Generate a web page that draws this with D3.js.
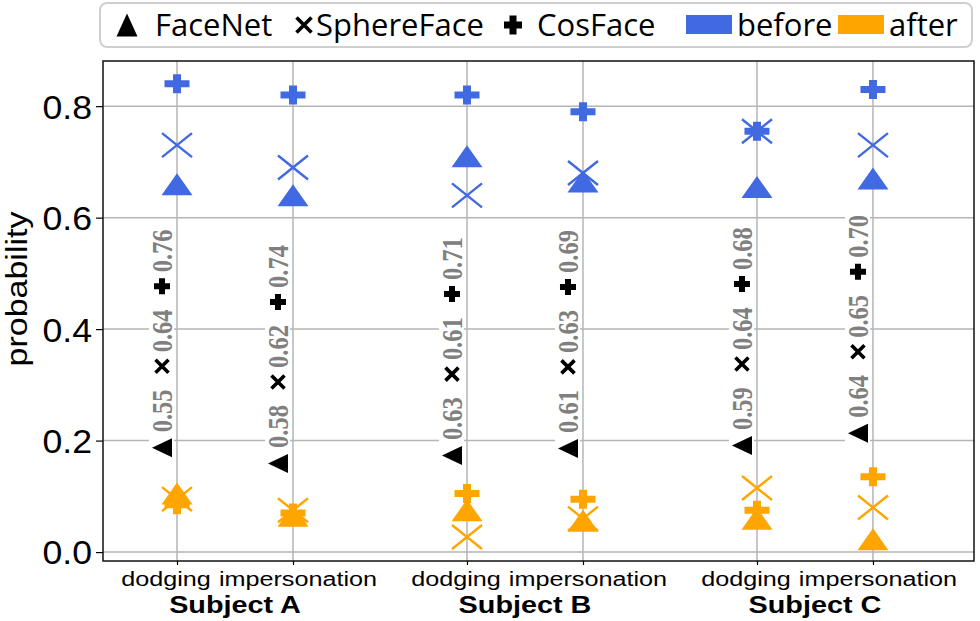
<!DOCTYPE html>
<html><head><meta charset="utf-8">
<script src="https://cdn.jsdelivr.net/npm/d3@7"></script>
<style>body{margin:0;background:#fff}svg{display:block}</style>
</head><body><svg id="c" width="980" height="621"></svg>
<script>
// ---- data ----
const subjects = ["Subject A", "Subject B", "Subject C"];
const attacks = ["dodging", "impersonation"];
const models = ["FaceNet", "SphereFace", "CosFace"];
const phases = ["before", "after"];
const yTicks = [0.0, 0.2, 0.4, 0.6, 0.8];
// order: A-dodging, A-impersonation, B-dodging, B-impersonation, C-dodging, C-impersonation
const beforeFaceNet    = [0.66, 0.64, 0.71, 0.665, 0.655, 0.67];
const beforeSphereFace = [0.73, 0.69, 0.64, 0.68, 0.755, 0.73];
const beforeCosFace    = [0.84, 0.82, 0.82, 0.79, 0.755, 0.83];
const afterFaceNet     = [0.105, 0.065, 0.075, 0.056, 0.06, 0.023];
const afterSphereFace  = [0.095, 0.075, 0.027, 0.06, 0.115, 0.08];
const afterCosFace     = [0.085, 0.07, 0.105, 0.095, 0.075, 0.135];
const labelFaceNet     = [0.55, 0.58, 0.63, 0.61, 0.59, 0.64];
const labelSphereFace  = [0.64, 0.62, 0.61, 0.63, 0.64, 0.65];
const labelCosFace     = [0.76, 0.74, 0.71, 0.69, 0.68, 0.70];
const labelAnchor      = [0.170, 0.142, 0.156, 0.169, 0.174, 0.196];

const colors = {before: "#4169E1", after: "#FFA500"};
const SX = 1.2; // horizontal stretch of the original figure

const svg = d3.select("#c");
const cats = [];
subjects.forEach((s, si) => attacks.forEach((a, ai) => cats.push({s, a, pos: si * 2.5 + ai})));

const x = d3.scaleLinear().domain([-0.638, 6.871]).range([103, 974]);
const y = d3.scaleLinear().domain([-0.016, 0.881]).range([561, 61]);

// grid
const grid = svg.append("g");
grid.selectAll("line.h").data(yTicks).join("line")
  .attr("x1", 103).attr("x2", 974).attr("y1", d => y(d)).attr("y2", d => y(d))
  .attr("stroke", "#b5b5b5").attr("stroke-width", 1.5);
grid.selectAll("line.v").data(cats).join("line")
  .attr("y1", 61).attr("y2", 561).attr("x1", d => x(d.pos)).attr("x2", d => x(d.pos))
  .attr("stroke", "#b5b5b5").attr("stroke-width", 1.5);

// axes
const yAxis = d3.axisLeft(y).tickValues(yTicks).tickFormat(d3.format(".1f")).tickSize(7).tickPadding(4);
const gy = svg.append("g").attr("transform", "translate(103,0)").call(yAxis);
gy.select(".domain").remove();
gy.selectAll(".tick line").attr("stroke", "#000").attr("stroke-width", 1.2);
gy.selectAll(".tick text").attr("font-family", "Liberation Sans, Arial, sans-serif")
  .attr("font-size", 33).attr("fill", "#000").attr("x", null).attr("dy", "0.36em")
  .attr("transform", `translate(-11,0) scale(1.08,1)`);

const xAxis = d3.axisBottom(x).tickValues(cats.map(c => c.pos)).tickFormat("").tickSize(4);
const gx = svg.append("g").attr("transform", "translate(0,561)").call(xAxis);
gx.select(".domain").remove();
gx.selectAll(".tick line").attr("stroke", "#000").attr("stroke-width", 1.2);

// frame
svg.append("rect").attr("x", 103).attr("y", 61).attr("width", 871).attr("height", 500)
  .attr("fill", "none").attr("stroke", "#111").attr("stroke-width", 1.5);

// x labels
const xl = svg.append("g");
cats.forEach(c => {
  const off = c.a === "dodging" ? -11 : 5;
  xl.append("text").attr("transform", `translate(${x(c.pos) + off},586) scale(${SX},1)`)
    .attr("text-anchor", "middle").attr("font-family", "Liberation Sans, Arial, sans-serif")
    .attr("font-size", 21).text(c.a);
});
subjects.forEach((s, si) => {
  xl.append("text").attr("transform", `translate(${(x(si * 2.5) + x(si * 2.5 + 1)) / 2},613) scale(${SX},1)`)
    .attr("text-anchor", "middle").attr("font-family", "Liberation Sans, Arial, sans-serif")
    .attr("font-weight", "bold").attr("font-size", 24).text(s);
});

// y label
svg.append("text").attr("transform", "translate(27,289) rotate(-90) scale(1,0.88)")
  .attr("text-anchor", "middle").attr("font-family", "Liberation Sans, Arial, sans-serif")
  .attr("font-size", 34).text("probability");

// marker path generators (centered at 0,0)
function triPath(w, h) { return `M0,${-h / 2}L${w / 2},${h / 2}L${-w / 2},${h / 2}Z`; }
function plusPath(w, h, tw, th) {
  return `M${-tw / 2},${-h / 2}H${tw / 2}V${-th / 2}H${w / 2}V${th / 2}H${tw / 2}V${h / 2}H${-tw / 2}V${th / 2}H${-w / 2}V${-th / 2}H${-tw / 2}Z`;
}
function xPath(w, h) { return `M${-w / 2},${-h / 2}L${w / 2},${h / 2}M${-w / 2},${h / 2}L${w / 2},${-h / 2}`; }

function drawMarker(g, model, cx, cy, color) {
  if (model === "FaceNet") {
    g.append("path").attr("d", triPath(31, 22)).attr("transform", `translate(${cx},${cy})`).attr("fill", color);
  } else if (model === "SphereFace") {
    g.append("path").attr("d", xPath(30, 24)).attr("transform", `translate(${cx},${cy})`)
      .attr("stroke", color).attr("stroke-width", 2.4).attr("fill", "none");
  } else {
    g.append("path").attr("d", plusPath(25, 19, 8, 7)).attr("transform", `translate(${cx},${cy})`).attr("fill", color);
  }
}

const series = [
  {model: "FaceNet", phase: "before", vals: beforeFaceNet},
  {model: "SphereFace", phase: "before", vals: beforeSphereFace},
  {model: "CosFace", phase: "before", vals: beforeCosFace},
  {model: "FaceNet", phase: "after", vals: afterFaceNet},
  {model: "SphereFace", phase: "after", vals: afterSphereFace},
  {model: "CosFace", phase: "after", vals: afterCosFace}
];
const marks = svg.append("g");
series.forEach(s => s.vals.forEach((v, i) => drawMarker(marks, s.model, x(cats[i].pos), y(v), colors[s.phase])));

// rotated annotations
const ann = svg.append("g");
cats.forEach((c, i) => {
  const g = ann.append("g").attr("transform", `translate(${x(c.pos) - 15},${y(labelAnchor[i])}) rotate(-90)`);
  g.append("rect").attr("x", -2).attr("y", -13).attr("width", 234).attr("height", 25).attr("fill", "#fff");
  const items = [
    {m: "FaceNet", v: labelFaceNet[i]},
    {m: "SphereFace", v: labelSphereFace[i]},
    {m: "CosFace", v: labelCosFace[i]}
  ];
  let lx = 0;
  items.forEach(it => {
    const symLen = it.m === "FaceNet" ? 19 : 16;
    const sg = g.append("g").attr("transform", `translate(${lx + symLen / 2},0)`);
    if (it.m === "FaceNet") {
      sg.append("path").attr("d", triPath(19, 20)).attr("fill", "#000");
    } else if (it.m === "SphereFace") {
      sg.append("path").attr("d", xPath(13, 13)).attr("stroke", "#000").attr("stroke-width", 3.6).attr("fill", "none");
    } else {
      sg.append("path").attr("d", plusPath(16, 16, 6, 6)).attr("fill", "#000");
    }
    lx += symLen + 6;
    g.append("text").attr("transform", `translate(${lx},10) scale(1,${SX})`)
      .attr("font-family", "Liberation Serif, Times New Roman, serif").attr("font-weight", "bold")
      .attr("font-size", 24.5).attr("fill", "#808080").text(it.v.toFixed(2));
    lx += 43 + 15;
  });
});

// legend
const lg = svg.append("g");
lg.append("rect").attr("x", 100).attr("y", 3).attr("width", 872).attr("height", 44).attr("rx", 7)
  .attr("fill", "#fff").attr("stroke", "#cfcfcf").attr("stroke-width", 2);
const legendFont = "Open Sans, Noto Sans, sans-serif";
const legItems = [
  {kind: "FaceNet", cx: 127, tx: 155},
  {kind: "SphereFace", cx: 304, tx: 316},
  {kind: "CosFace", cx: 513, tx: 537}
];
legItems.forEach(it => {
  if (it.kind === "FaceNet") lg.append("path").attr("d", triPath(21, 23)).attr("transform", `translate(${it.cx},25)`).attr("fill", "#000");
  if (it.kind === "SphereFace") lg.append("path").attr("d", xPath(15, 15)).attr("transform", `translate(${it.cx},25)`).attr("stroke", "#000").attr("stroke-width", 3.6);
  if (it.kind === "CosFace") lg.append("path").attr("d", plusPath(18, 19, 7, 7)).attr("transform", `translate(${it.cx},25)`).attr("fill", "#000");
  lg.append("text").attr("x", it.tx).attr("y", 36).attr("font-family", legendFont).attr("font-size", 31).text(it.kind);
});
[["before", 686, 737], ["after", 838, 889]].forEach(([ph, rx, tx]) => {
  lg.append("rect").attr("x", rx).attr("y", 15).attr("width", 46).attr("height", 19).attr("fill", colors[ph]);
  lg.append("text").attr("x", tx).attr("y", 36).attr("font-family", legendFont).attr("font-size", 31).text(ph);
});
</script></body></html>
